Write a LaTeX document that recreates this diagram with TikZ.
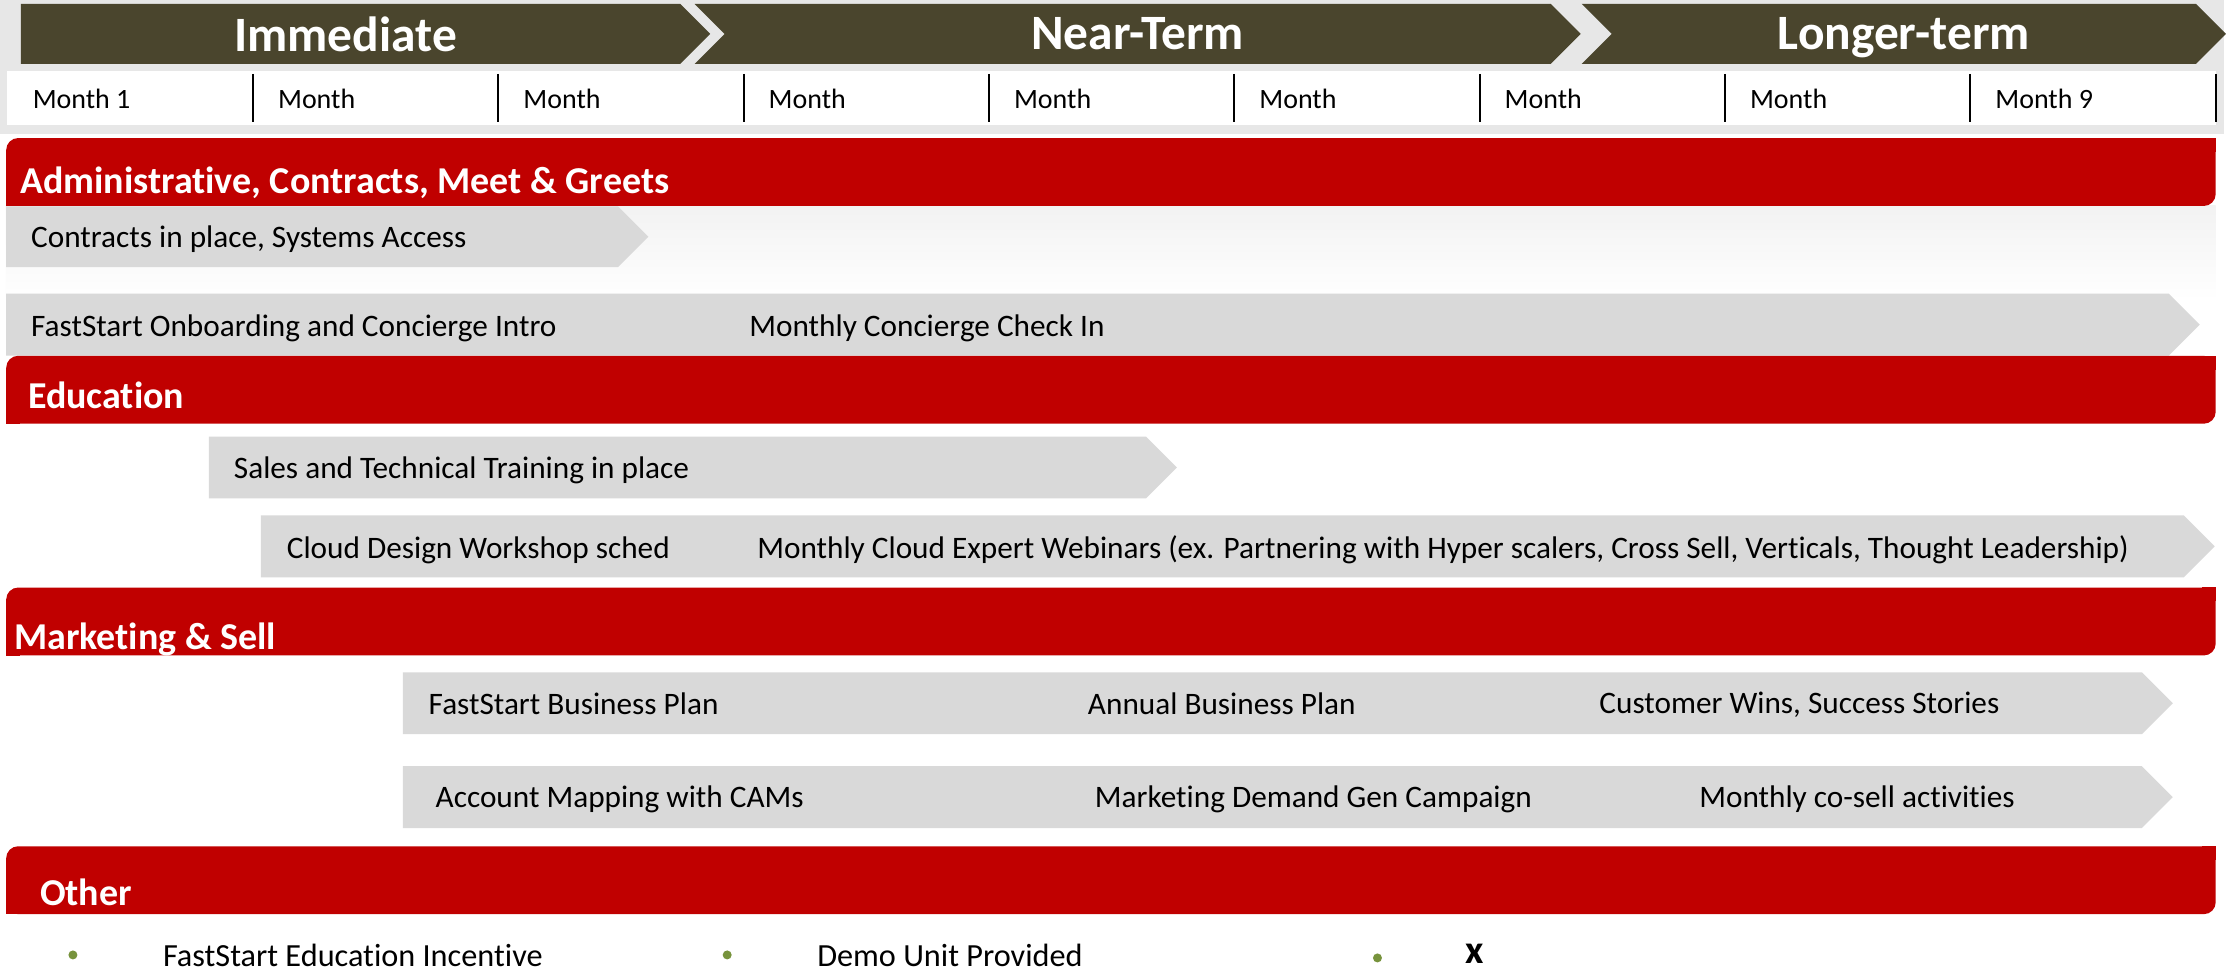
\documentclass[tikz,border=0pt]{standalone}
\usepackage{fontspec}
\setmainfont{Carlito}[Ligatures=NoCommon]
\usetikzlibrary{shapes.symbols,positioning}

\definecolor{hdrolive}{RGB}{74,69,45}
\definecolor{secred}{RGB}{192,0,0}
\definecolor{barfill}{RGB}{217,217,217}
\definecolor{topgray}{RGB}{231,231,231}
\definecolor{dotgreen}{RGB}{119,147,60}

\begin{document}
\begin{tikzpicture}[x=1pt,y=-1pt,
  phase/.style={signal, signal to=east, signal pointer angle=90, fill=hdrolive, text=white,
    minimum height=60pt, inner sep=0pt, text depth=0pt, font=\fontsize{49.5}{56}\selectfont\bfseries},
  month/.style={anchor=west, inner sep=0pt, font=\fontsize{28}{34}\selectfont},
  section/.style={rectangle, rounded corners=12pt, fill=secred, anchor=north west,
    minimum width=2212pt, minimum height=68pt, inner sep=0pt},
  sectitle/.style={anchor=west, inner sep=0pt, text depth=0pt, text=white, font=\fontsize{38}{44}\selectfont\bfseries},
  track/.style={signal, signal to=east, signal pointer angle=90, fill=barfill,
    minimum height=62pt, inner sep=0pt, anchor=west},
  item/.style={anchor=west, inner sep=0pt, text depth=0pt, font=\fontsize{31.3}{37}\selectfont},
  note/.style={item, font=\fontsize{32.3}{38}\selectfont},
  dot/.style={circle, fill=dotgreen, minimum size=9pt, inner sep=0pt}]

  % page and header background
  \fill[white] (0,0) rectangle (2226,976);
  \fill[topgray] (0,0) rectangle (2226,134);
  \shade[top color=gray!10, bottom color=white] (6,206) rectangle (2218,300);

  % phases
  \node[phase, minimum width=690pt] (immediate) at (351,34) {\hspace*{-10pt}Immediate};
  \node[phase, signal from=west, minimum width=887pt] (nearterm) at (1139,34) {Near-Term};
  \node[phase, signal from=west, minimum width=645pt] (longer) at (1906,34) {Longer-term};

  % month row
  \fill[white] (7,71) rectangle (2218,125);
  \foreach \i/\mname in {1/Month 1,2/Month,3/Month,4/Month,5/Month,6/Month,7/Month,8/Month,9/Month 9}{
    \node[month] (m\i) at ({32.6+245.6*(\i-1)},99) {\mname};
    \draw[line width=2pt] ({7.6+245.6*\i},74) -- ++(0,48);
  }

  % Administrative
  \node[section] (admin) at (6,138) {};
  \fill[secred] (admin.north east) rectangle ++(-14,14);
  \fill[secred] (admin.south west) rectangle ++(14,-14);
  \node[sectitle] (admintitle) at (20,180) {Administrative, Contracts, Meet \& Greets};
  \node[track, minimum width=643pt, minimum height=61pt] (contracts) at (6,237) {};
  \node[item] (contractstxt) at (31,237) {Contracts in place, Systems Access};
  \node[track, minimum width=2196pt] (onboard) at (6,325) {};
  \node[item] (onboardtxt) at (31,326) {FastStart Onboarding and Concierge Intro};
  \node[item] (checkin) at (750,326) {Monthly Concierge Check In};

  % Education
  \node[section] (edu) at (6,356) {};
  \fill[secred] (edu.north east) rectangle ++(-14,14);
  \fill[secred] (edu.south west) rectangle ++(14,-14);
  \node[sectitle] (edutitle) at (28,396) {Education};
  \node[track, minimum width=969pt] (training) at (209,468) {};
  \node[item] (trainingtxt) at (234,468) {Sales and Technical Training in place};
  \node[track, minimum width=1956pt] (cloud) at (261,547) {};
  \node[item] (workshop) at (287,548) {Cloud Design Workshop sched};
  \node[item] (webinars) at (758,548) {Monthly Cloud Expert Webinars (ex. Partnering with Hyper scalers, Cross Sell, Verticals, Thought Leadership)};

  % Marketing & Sell
  \node[section] (mkt) at (6,588) {};
  \fill[secred] (mkt.north east) rectangle ++(-14,14);
  \fill[secred] (mkt.south west) rectangle ++(14,-14);
  \node[sectitle] (mkttitle) at (14,637) {Marketing \& Sell};
  \node[track, minimum width=1772pt] (plan) at (403,704) {};
  \node[item] (fsplan) at (429,704) {FastStart Business Plan};
  \node[item] (annual) at (1089,704) {Annual Business Plan};
  \node[item] (wins) at (1601,704) {Customer Wins, Success Stories};
  \node[track, minimum width=1772pt] (mapping) at (403,798) {};
  \node[item] (cams) at (436,798) {Account Mapping with CAMs};
  \node[item] (demandgen) at (1096,798) {Marketing Demand Gen Campaign};
  \node[item] (cosell) at (1701,798) {Monthly co-sell activities};

  % Other
  \node[section] (other) at (6,847) {};
  \fill[secred] (other.north east) rectangle ++(-14,14);
  \fill[secred] (other.south west) rectangle ++(14,-14);
  \node[sectitle] (othertitle) at (40,893) {Other};
  \node[dot] (b1) at (73,956) {};
  \node[note] (incentive) at (163,956) {FastStart Education Incentive};
  \node[dot] (b2) at (728,956) {};
  \node[note] (demo) at (818,956) {Demo Unit Provided};
  \node[dot] (b3) at (1379,959) {};
  \node[item, font=\fontsize{40}{46}\selectfont\bfseries] (xitem) at (1467,955) {x};
\end{tikzpicture}
\end{document}
